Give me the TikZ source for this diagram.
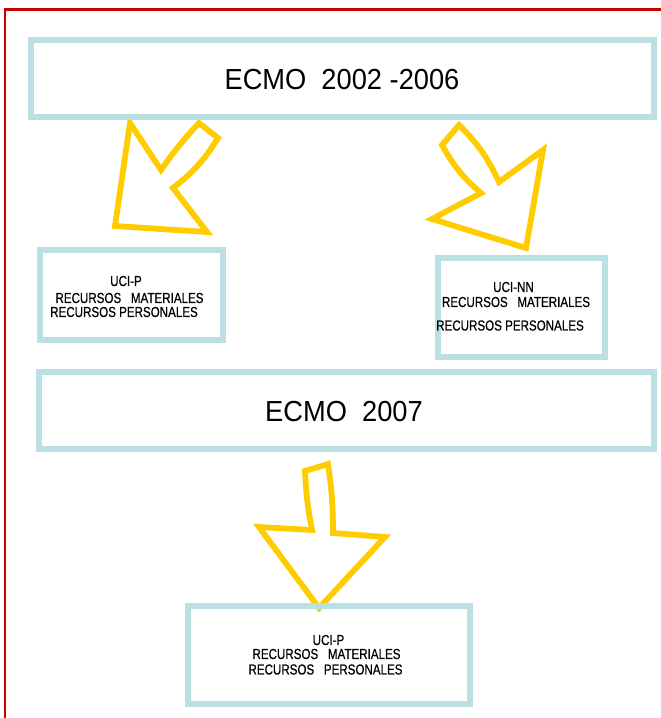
\documentclass[tikz,border=0pt]{standalone}
\usepackage{fontspec}
\setmainfont{Liberation Sans}
\newfontfamily\smfont[FakeBold=0.7]{Liberation Sans}
\usepackage{graphicx}
\definecolor{boxblue}{RGB}{186,224,228}
\definecolor{arrowyel}{RGB}{255,204,0}
\definecolor{framered}{RGB}{200,0,0}
\newcommand{\bigtxt}[1]{\scalebox{0.94}[1]{#1}}
\newcommand{\smtxt}[1]{\scalebox{0.8}[1]{#1}}
\begin{document}
\begin{tikzpicture}[x=1pt,y=-1pt,
  bx/.style={draw=boxblue, line width=6pt, inner sep=0pt},
  blk/.style={draw=arrowyel, line width=5.8pt, line join=miter},
  big/.style={inner sep=0pt, font=\fontsize{29}{31}\selectfont},
  small/.style={inner sep=0pt, font=\smfont\fontsize{14.5}{15}\selectfont}]
\useasboundingbox (0,0) rectangle (661,718);
\clip (0,0) rectangle (661,718);
\draw[framered, line width=2.2pt] (5,9.5) rectangle (680,740);

% block arrows
\draw[blk] (130,123) -- (161,170) to[bend left=4] (199,123) -- (218,138)
  to[bend left=10] (173,188) -- (207,232) -- (115,226) -- cycle;
\draw[blk] (442,145) -- (459,125) to[bend left=10] (499,182) -- (543,150)
  -- (526,248) -- (432,219) -- (481,193) to[bend left=10] cycle;
\draw[blk] (305,471) -- (328,464) to[bend left=4] (333,533) -- (385,537)
  -- (319,608) -- (259,527) -- (312,530) to[bend left=4] cycle;

% boxes
\node[bx, minimum width=623pt, minimum height=77pt] (top) at (342.5,78.5) {};
\node[bx, minimum width=183pt, minimum height=90pt] (ucip) at (131,294.5) {};
\node[bx, minimum width=167pt, minimum height=99.5pt] (ucinn) at (521,307.25) {};
\node[bx, minimum width=615pt, minimum height=77pt] (mid) at (346.5,410.5) {};
\node[bx, minimum width=282pt, minimum height=98pt] (bot) at (328.5,654.5) {};

% texts
\node[big] (ttop) at (342,80) {\bigtxt{ECMO\ \ 2002 -2006}};
\node[big] (tmid) at (344,412) {\bigtxt{ECMO\ \ 2007}};

\node[small] (l1) at (126,281) {\smtxt{UCI-P}};
\node[small] (l2) at (129.5,298) {\smtxt{RECURSOS\ \ \ MATERIALES}};
\node[small] (l3) at (124,312) {\smtxt{RECURSOS PERSONALES}};

\node[small] (r1) at (513.5,287) {\smtxt{UCI-NN}};
\node[small] (r2) at (516,302) {\smtxt{RECURSOS\ \ \ MATERIALES}};
\node[small] (r3) at (510,325.5) {\smtxt{RECURSOS PERSONALES}};

\node[small] (b1) at (328.5,640) {\smtxt{UCI-P}};
\node[small] (b2) at (326.5,654) {\smtxt{RECURSOS\ \ \ MATERIALES}};
\node[small] (b3) at (325.5,669.5) {\smtxt{RECURSOS\ \ \ PERSONALES}};
\end{tikzpicture}
\end{document}
